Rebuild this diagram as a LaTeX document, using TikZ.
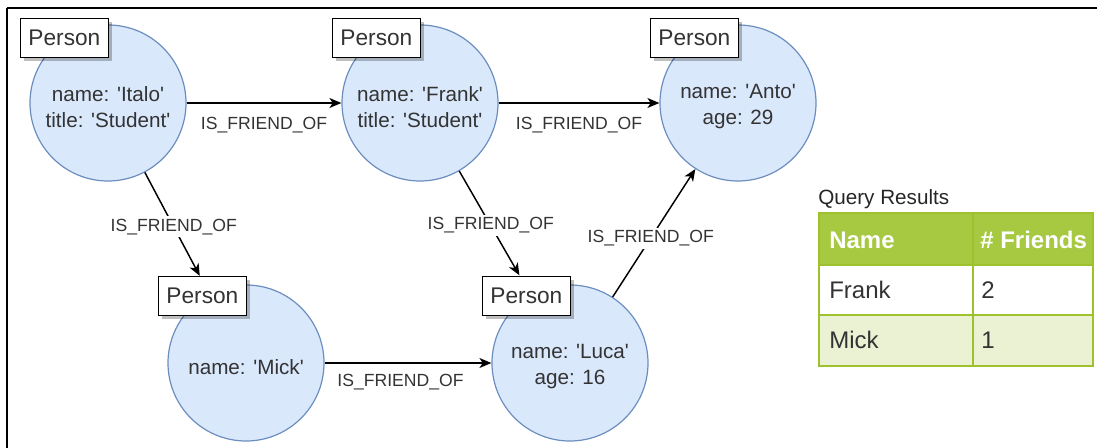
\documentclass[tikz,border=0pt]{standalone}
\usepackage{fontspec}
\setmainfont{Liberation Sans}[Ligatures=TeXOff]
\usetikzlibrary{arrows.meta,shadows}

\definecolor{nodefill}{HTML}{DAE8FC}
\definecolor{nodeline}{HTML}{6C8EBF}
\definecolor{txt}{HTML}{333333}
\definecolor{hdrgreen}{HTML}{A7C942}
\definecolor{gridgreen}{HTML}{9DC22E}
\definecolor{rowalt}{HTML}{EAF2D3}

\tikzset{
  person/.style={circle, fill=nodefill, draw=nodeline, line width=0.9pt,
    minimum size=117pt, inner sep=0pt},
  props/.style={align=center, text=txt, inner sep=0pt,
    font=\fontsize{15.5}{19.5}\selectfont},
  tag/.style={draw=black, fill=white, line width=0.9pt, anchor=north east,
    minimum width=66pt, minimum height=29pt, inner sep=0pt, text=txt,
    font=\fontsize{17}{19}\selectfont,
    drop shadow={shadow xshift=2.5pt, shadow yshift=-2.5pt, fill=black, opacity=0.25}},
  rel/.style={-{Stealth[length=9pt,width=7.5pt,inset=2.5pt]}, line width=1.1pt, black},
  rellabel/.style={font=\fontsize{13.2}{15}\selectfont, text=txt, inner sep=2pt},
  onedge/.style={rellabel, fill=white},
  cell/.style={anchor=west, text=txt, font=\fontsize{18}{20}\selectfont, inner sep=0pt},
  hcell/.style={cell, text=white, font=\bfseries\fontsize{18}{20}\selectfont},
  grid/.style={draw=gridgreen, line width=1.3pt},
}

\begin{document}
\begin{tikzpicture}[x=0.75pt, y=-0.75pt]
  \useasboundingbox (0,0) rectangle (1097,448);

  % frame
  \draw[line width=1.6pt] (7,8) -- (1097,8);
  \draw[line width=1.6pt] (7,8) -- (7,448);

  % people
  \node[person] (italo) at (108,103) {};
  \node[person] (frank) at (420,103) {};
  \node[person] (anto)  at (738,103) {};
  \node[person] (mick)  at (246,363) {};
  \node[person] (luca)  at (570,363) {};

  % their properties
  \node[props] (italoProps) at ([yshift=-3pt]italo.center) {name: 'Italo'\\title: 'Student'};
  \node[props] (frankProps) at ([yshift=-3pt]frank.center) {name: 'Frank'\\title: 'Student'};
  \node[props] (antoProps)  at ([yshift=-3pt]anto.center)  {name: 'Anto'\\age: 29};
  \node[props] (mickProps)  at ([yshift=-3pt]mick.center)  {name: 'Mick'};
  \node[props] (lucaProps)  at ([yshift=-3pt]luca.center)  {name: 'Luca'\\age: 16};

  % friendships
  \draw[rel] (italo) -- (frank)
    node[rellabel, pos=0.5, yshift=-16.5pt] {IS\_FRIEND\_OF};
  \draw[rel] (frank) -- (anto)
    node[rellabel, pos=0.5, yshift=-16.5pt] {IS\_FRIEND\_OF};
  \draw[rel] (mick) -- (luca)
    node[rellabel, pos=0.455, yshift=-14pt] {IS\_FRIEND\_OF};
  \draw[rel, shorten >=15pt] (italo) -- (mick)
    node[onedge, pos=0.45] {IS\_FRIEND\_OF};
  \draw[rel, shorten >=17pt] (frank) -- (luca)
    node[onedge, pos=0.44] {IS\_FRIEND\_OF};
  \draw[rel] (luca) -- (anto)
    node[onedge, pos=0.46] {IS\_FRIEND\_OF};

  % labels
  \node[tag] (italoTag) at (109,18)  {Person};
  \node[tag] (frankTag) at (421,18)  {Person};
  \node[tag] (antoTag)  at (739,18)  {Person};
  \node[tag] (mickTag)  at (247,276) {Person};
  \node[tag] (lucaTag)  at (571,276) {Person};

  % results table
  \node[anchor=west, inner sep=0pt, text=black!85, font=\fontsize{15.5}{18}\selectfont]
    (qtitle) at (818,199) {Query Results};
  \fill[hdrgreen] (819,213) rectangle (1093,265);
  \fill[rowalt]   (819,315) rectangle (1093,366);
  \draw[grid] (819,213) rectangle (1093,366);
  \draw[grid] (819,265) -- (1093,265);
  \draw[grid] (819,315) -- (1093,315);
  \draw[grid] (973,213) -- (973,366);
  \node[hcell] (hname)  at (829,240) {Name};
  \node[hcell] (hcount) at (980,240) {\# Friends};
  \node[cell]  (r1name) at (829,290) {Frank};
  \node[cell]  (r1cnt)  at (981,290) {2};
  \node[cell]  (r2name) at (829,340) {Mick};
  \node[cell]  (r2cnt)  at (981,340) {1};
\end{tikzpicture}
\end{document}
